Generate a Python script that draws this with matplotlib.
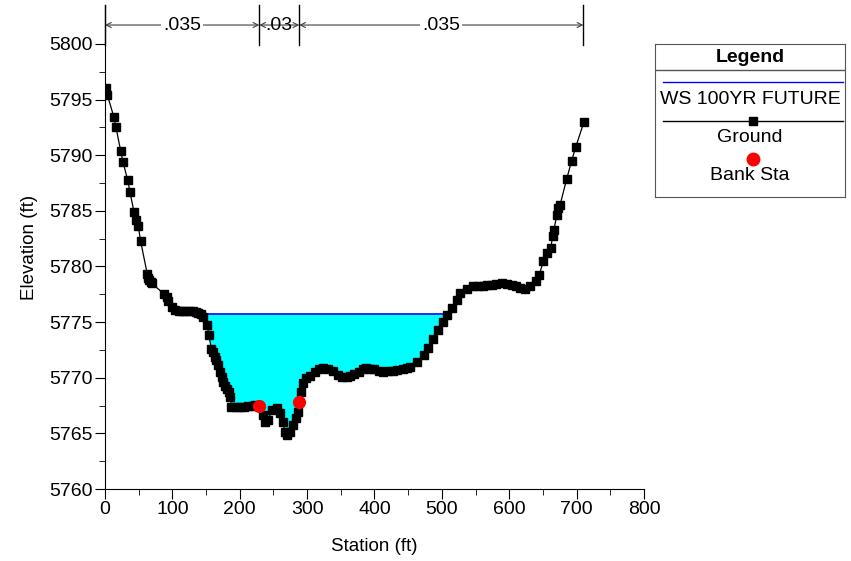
import numpy as np
import matplotlib.pyplot as plt
from matplotlib.lines import Line2D

plt.rcParams['font.family'] = ['Liberation Sans', 'DejaVu Sans']

# Ground profile
station = [1, 3.5, 13.4, 16.3, 23.2, 26.7, 33.5, 37.1, 43, 46, 49.5, 52.8,
           62.8, 64.5, 66, 68, 69.3, 88, 91.4, 94, 98.9, 104, 110.3, 114,
           118.7, 124, 131, 135, 138.5, 143, 146, 152, 154, 158, 160, 163,
           165, 168, 170.7, 173, 175.6, 178, 181.5, 184, 186, 187.5, 195,
           200, 206, 212.8, 218, 222.6, 229, 234, 237.5, 242.4, 247.3, 254.7,
           259.7, 263.6, 267, 270.5, 274.4, 278.4, 283.4, 286.9, 288.3,
           290.3, 294.3, 299, 304, 311.6, 318, 324, 331, 339, 346, 352,
           358.6, 364, 370, 377, 383, 388, 394, 400, 406, 413, 420, 427,
           434, 442, 448, 453, 463.5, 473.5, 479.8, 487.3, 494.7, 501, 507,
           514.4, 521.8, 527, 536.7, 546.6, 554, 561.4, 567, 573.8, 581,
           588.6, 596, 603.4, 610, 616, 623.4, 630.8, 639.7, 644.6, 650.5,
           655.5, 661.5, 664.4, 666.4, 670.4, 672.9, 675.3, 685.2, 692.6,
           698.5, 710.9]
elevation = [5796.0, 5795.4, 5793.4, 5792.5, 5790.4, 5789.4, 5787.8, 5786.7,
             5784.9, 5784.2, 5783.6, 5782.3, 5779.3, 5779.0, 5778.8, 5778.6,
             5778.5, 5777.5, 5777.3, 5776.9, 5776.4, 5776.1, 5776.0, 5776.0,
             5776.0, 5776.0, 5776.0, 5775.95, 5775.85, 5775.7, 5775.5,
             5774.7, 5773.8, 5772.6, 5772.3, 5771.9, 5771.6, 5771.1, 5770.5,
             5770.1, 5769.6, 5769.3, 5769.0, 5768.7, 5768.3, 5767.35,
             5767.35, 5767.35, 5767.4, 5767.45, 5767.5, 5767.55, 5767.45,
             5766.65, 5766.05, 5766.2, 5767.1, 5767.25, 5766.8, 5766.05,
             5765.15, 5764.85, 5765.15, 5765.75, 5766.35, 5766.95, 5767.85,
             5768.75, 5769.5, 5769.95, 5770.2, 5770.5, 5770.75, 5770.85,
             5770.8, 5770.6, 5770.25, 5770.1, 5770.1, 5770.15, 5770.3,
             5770.55, 5770.75, 5770.85, 5770.8, 5770.75, 5770.6, 5770.55,
             5770.6, 5770.65, 5770.7, 5770.75, 5770.85, 5770.95, 5771.45,
             5772.05, 5772.65, 5773.45, 5774.3, 5775.05, 5775.65, 5776.25,
             5777.0, 5777.6, 5778.0, 5778.2, 5778.25, 5778.25, 5778.3,
             5778.3, 5778.45, 5778.55, 5778.45, 5778.35, 5778.2, 5778.1,
             5777.95, 5778.2, 5778.65, 5779.25, 5780.45, 5781.2, 5781.65,
             5782.7, 5783.3, 5784.6, 5785.25, 5785.5, 5787.85, 5789.5,
             5790.7, 5793.0]

ws_elev = 5775.7
ws_label = 'WS 100YR FUTURE'

bank_sta = [229, 288.3]
bank_elev = [5767.45, 5767.85]

n_breaks = [0, 229, 288.3, 710]
n_values = ['.035', '.03', '.035']

sta = np.array(station)
elev = np.array(elevation)

fig = plt.figure(figsize=(8.51, 5.61), dpi=100)
ax = fig.add_axes([105/851, 72/561, 539/851, 484/561])

# water surface and fill
ws_x = [138.5, 506]
ax.fill_between(sta, elev, ws_elev, where=(elev <= ws_elev) & (sta > 130) & (sta < 510),
                interpolate=True, color='#00ffff', lw=0, zorder=1)
ax.plot(ws_x, [ws_elev, ws_elev], color='#0000ff', lw=1.2, zorder=2)

ax.plot(sta, elev, color='black', lw=0.9, marker='s', ms=5.5, mfc='black', mec='black', zorder=3)
ax.plot(bank_sta, bank_elev, 'o', color='#ff0000', ms=8.5, mec='#ff0000', zorder=4, ls='none')

# Manning's n labels at top
top = 5803.5
n_y = 5801.7
for i, nv in enumerate(n_values):
    x0, x1 = n_breaks[i], n_breaks[i + 1]
    ax.annotate('', xy=(x0, n_y), xytext=(x1, n_y),
                arrowprops=dict(arrowstyle='<->', color='#404040', lw=0.8,
                                shrinkA=0, shrinkB=0, mutation_scale=9))
    ax.text((x0 + x1) / 2, n_y, nv, ha='center', va='center', fontsize=14,
            bbox=dict(facecolor='white', edgecolor='none', pad=1.5) if nv != '.03' else None,
            zorder=5)
for b in n_breaks:
    ax.plot([b, b], [5799.9, top], color='black', lw=1, clip_on=False)

ax.set_xlim(0, 800)
ax.set_ylim(5760, top)
ax.set_xticks(np.arange(0, 801, 100))
ax.set_xticks(np.arange(0, 801, 50), minor=True)
ax.set_yticks(np.arange(5760, 5801, 5))
ax.set_yticks(np.arange(5760, 5801, 2.5), minor=True)
ax.tick_params(axis='both', which='major', length=7, labelsize=14, direction='out', pad=2)
ax.tick_params(axis='both', which='minor', length=4, direction='out')
for s in ['top', 'right']:
    ax.spines[s].set_visible(False)
ax.set_xlabel('Station (ft)', fontsize=13.5, labelpad=14)
ax.set_ylabel('Elevation (ft)', fontsize=13.5, labelpad=8)

# legend box
lg = fig.add_axes([655/851, (561-197)/561, 190/851, 153/561])
lg.set_xlim(0, 190)
lg.set_ylim(153, 0)
lg.set_xticks([])
lg.set_yticks([])
for s in lg.spines.values():
    s.set_color('#555555')
lg.text(95, 13, 'Legend', ha='center', va='center', fontsize=14, fontweight='bold')
lg.plot([0, 190], [26, 26], color='#555555', lw=1)
lg.plot([8, 188], [38, 38], color='#0000ff', lw=1)
lg.text(95, 56, ws_label, ha='center', va='center', fontsize=14)
lg.add_line(Line2D([8, 188], [77, 77], color='black', lw=1))
lg.plot([98], [77], 's', color='black', ms=6)
lg.text(95, 94, 'Ground', ha='center', va='center', fontsize=14)
lg.plot([98], [115], 'o', color='#ff0000', ms=9)
lg.text(95, 132, 'Bank Sta', ha='center', va='center', fontsize=14)

fig.savefig('out.png', dpi=100)
